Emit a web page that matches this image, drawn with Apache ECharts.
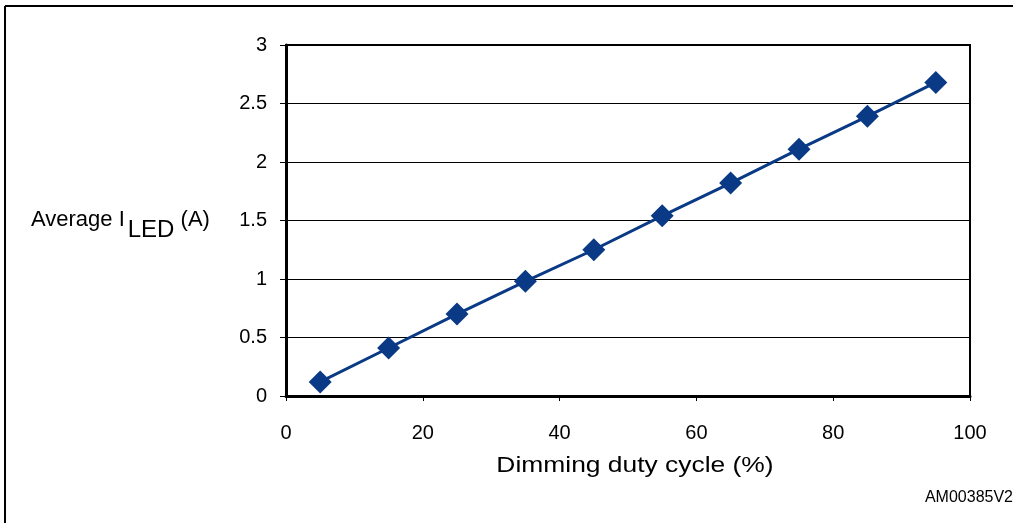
<!DOCTYPE html>
<html>
<head>
<meta charset="utf-8">
<script src="https://cdn.jsdelivr.net/npm/echarts@6/dist/echarts.min.js"></script>
<style>
html,body{margin:0;padding:0;background:#fff;}
#c{width:1013px;height:523px;}
</style>
</head>
<body>
<div id="c"></div>
<script>
const dutyCycle = [5, 15, 25, 35, 45, 55, 65, 75, 85, 95];
const avgCurrent = [0.12, 0.41, 0.70, 0.98, 1.25, 1.54, 1.82, 2.11, 2.39, 2.68];
const xTicks = [0, 20, 40, 60, 80, 100];
const yTicks = [0, 0.5, 1, 1.5, 2, 2.5, 3];
const xTitle = 'Dimming duty cycle (%)';
const figId = 'AM00385V2';

const chart = echarts.init(document.getElementById('c'), null, {renderer: 'canvas'});
const font = '"Liberation Sans", Arial, Helvetica, sans-serif';
chart.setOption({
  animation: false,
  backgroundColor: '#fff',
  textStyle: {fontFamily: font},
  grid: {left: 286, right: 43, top: 45, bottom: 127, show: true, borderColor: '#000', borderWidth: 2},
  xAxis: {
    type: 'value', min: xTicks[0], max: xTicks[xTicks.length - 1], interval: 20,
    axisLine: {show: true, lineStyle: {color: '#000', width: 3}},
    axisTick: {show: true, length: 5, lineStyle: {color: '#000', width: 1}},
    splitLine: {show: false},
    axisLabel: {color: '#000', fontSize: 20, margin: 27, fontFamily: font}
  },
  yAxis: {
    type: 'value', min: yTicks[0], max: yTicks[yTicks.length - 1], interval: 0.5,
    axisLine: {show: true, lineStyle: {color: '#000', width: 3}},
    axisTick: {show: true, length: 6, lineStyle: {color: '#000', width: 1}},
    splitLine: {show: true, lineStyle: {color: '#000', width: 1}},
    axisLabel: {color: '#000', fontSize: 20, margin: 19, fontFamily: font}
  },
  series: [{
    type: 'line',
    data: dutyCycle.map((d, i) => [d, avgCurrent[i]]),
    symbol: 'diamond', symbolSize: 23,
    lineStyle: {color: '#0a3a85', width: 3},
    itemStyle: {color: '#0a3a85'}
  }],
  graphic: [
    {type: 'line', shape: {x1: 5, y1: 6, x2: 5, y2: 523}, style: {stroke: '#000', lineWidth: 2}},
    {type: 'line', shape: {x1: 5, y1: 6, x2: 1013, y2: 6}, style: {stroke: '#000', lineWidth: 2}},
    {type: 'text', left: 31, top: 209, style: {
      text: '{a|Average I}{b|LED}{a| (A)}',
      rich: {
        a: {fontSize: 22, fontFamily: font, fill: '#000', verticalAlign: 'top'},
        b: {fontSize: 24, fontFamily: font, fill: '#000', verticalAlign: 'top', padding: [9, 0, 0, 3]}
      }
    }},
    {type: 'text', x: 635, y: 466, scaleX: 1.2, style: {
      text: xTitle, fontSize: 22, fontFamily: font, fill: '#000', textAlign: 'center', textVerticalAlign: 'middle'
    }},
    {type: 'text', x: 1013, y: 498, style: {
      text: figId, fontSize: 16, fontFamily: font, fill: '#000', textAlign: 'right', textVerticalAlign: 'middle'
    }}
  ]
});
</script>
</body>
</html>
